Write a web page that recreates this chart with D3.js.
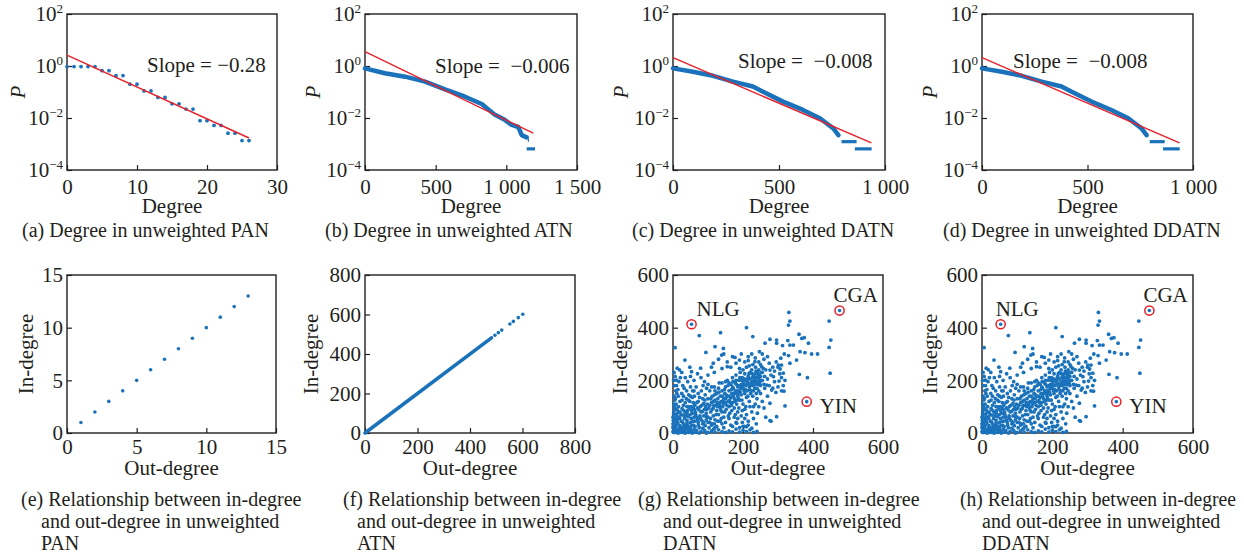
<!DOCTYPE html>
<html>
<head>
<meta charset="utf-8">
<script src="https://cdn.jsdelivr.net/npm/d3@7"></script>
<style>
body { margin: 0; background: #fff; }
text { font-family: "Liberation Serif", "Times New Roman", serif; fill: #231f20; }
</style>
</head>
<body>
<svg id="chart" width="1244" height="558"></svg>
<script>
// ---- data ----
// (a) PAN degree distribution
const panDegree = [0,1,2,3,4,5,6,7,8,9,10,11,12,13,14,15,16,17,18,19,20,21,22,23,24,25,26];
const panP = [0.95,0.95,0.95,0.95,0.95,0.66,0.66,0.43,0.43,0.2,0.2,0.11,0.11,0.062,0.062,0.035,0.035,0.022,0.022,0.0079,0.0079,0.0052,0.0052,0.0026,0.0026,0.00135,0.00135];
const panFit = [[0, 2.6], [26, 0.0017]];

// (b) ATN degree distribution
const atnDegree = [0,141,283,425,566,708,826,920,991,1038,1085,1109,1144];
const atnP = [0.81,0.525,0.389,0.251,0.126,0.066,0.0347,0.0132,0.0083,0.0054,0.0045,0.0022,0.0018];
const atnTail = [[1152,1160,0.0014],[1144,1203,0.00065]];
const atnFit = [[0, 3.55], [1191, 0.0026]];

// (c)/(d) DATN and DDATN degree distribution
const datnDegree = [0,94,189,283,377,425,519,613,693,724,756,780];
const datnP = [0.81,0.6,0.42,0.25,0.162,0.102,0.0427,0.0204,0.0098,0.0063,0.004,0.0022];
const datnTail = [[795,866,0.00123],[858,937,0.00065]];
const datnFit = [[0, 2.1], [936, 0.0011]];

const slopeLabels = ['Slope = \u22120.28', 'Slope =  \u22120.006', 'Slope =  \u22120.008', 'Slope =  \u22120.008'];

// (e) PAN in/out degree
const panOut = [1,2,3,4,5,6,7,8,9,10,11,12,13];
const panIn = [1,2,3,4,5,6,7,8,9,10,11,12,13];

// (f) ATN in/out degree: dense run along the diagonal, then single nodes
const atnDenseRun = [0, 478];
const atnSparse = [482,495,508,521,552,565,584,601];

// (g)/(h) DATN in/out degree, [out, in]
const datnPairs = [
  [136,381],[210,400],[75,370],[6,324],[34,277],[94,306],[120,328],[144,321],[139,296],[177,287],[190,277],[228,366],
  [247,309],[263,341],[277,356],[296,341],[12,246],[10,201],[53,233],[79,246],[115,265],[155,252],[215,290],[234,271],
  [253,252],[277,239],[287,214],[268,182],[282,163],[230,100],[241,75],[277,113],[296,62],[210,24],[182,37],[277,47],
  [331,458],[334,425],[330,410],[446,425],[451,353],[446,325],[296,353],[328,351],[313,332],[334,334],[344,334],[360,375],
  [368,359],[375,362],[387,341],[363,309],[377,305],[396,300],[413,300],[318,300],[330,294],[353,277],[334,265],[308,284],
  [301,258],[306,243],[310,258],[315,227],[303,197],[361,223],[384,210],[449,227],[317,159],[294,154],[320,103],
  [2,2],[5,8],[8,3],[12,12],[15,5],[3,15],[18,18],[22,8],[25,2],[7,22],[10,30],[28,15],[32,25],[20,28],[14,38],[4,40],
  [35,5],[38,18],[42,30],[30,35],[24,45],[12,50],[6,55],[45,10],[48,22],[50,40],[40,48],[33,55],[18,60],[2,65],[55,5],
  [58,30],[52,55],[44,62],[28,68],[10,72],[60,15],[62,45],[1,28],[1,48],[3,85],[6,95],[2,110],[5,125],[3,140],[8,160],
  [4,180],[2,200],[6,215],[3,230],[9,110],[12,88],[16,100],[20,80],[26,92],[35,78],[42,85],[48,95],[55,75],[62,88],
  [68,60],[72,40],[75,20],[80,5],[85,35],[90,10],[95,50],[100,2],[110,8],[120,3],[130,12],[140,5],[150,2],[160,8],
  [170,4],[180,15],[190,3],[200,10],[205,25],[210,5],[220,12],[230,2],[240,6],[30,2],[65,3],[45,2],[15,0],[35,0],
  [55,0],[75,0],[95,0],[0,5],[0,20],[0,35],[0,60],
  [65,70],[70,95],[72,120],[78,55],[80,80],[82,105],[85,130],[88,65],[90,90],[92,145],[95,75],[98,110],[100,60],
  [100,130],[102,95],[105,40],[105,160],[108,80],[110,115],[112,140],[115,65],[115,95],[118,175],[120,125],[120,50],
  [122,105],[125,85],[125,150],[128,130],[130,70],[130,110],[132,190],[135,95],[135,140],[138,120],[140,160],[140,80],
  [142,100],[145,130],[145,60],[148,150],[150,115],[150,175],[152,90],[155,140],[155,200],[158,120],[160,160],[160,100],
  [162,75],[165,135],[165,185],[168,150],[170,115],[170,210],[172,170],[175,130],[175,95],[178,190],[180,150],[180,220],
  [182,110],[185,175],[185,140],[188,200],[190,160],[190,125],[192,230],[195,185],[195,145],[198,210],[200,170],[200,110],
  [202,195],[205,150],[205,225],[208,180],[210,200],[210,135],[212,160],[215,215],[215,190],[218,175],[220,230],[220,205],
  [222,150],[225,195],[225,240],[228,180],[230,215],[230,160],[232,200],[235,225],[235,185],[238,210],[240,195],[242,230],
  [245,205],[240,170],[248,190],[250,215],[236,250],[228,260],[245,270],[218,255],
  [20,120],[25,150],[30,105],[32,170],[38,130],[40,100],[45,145],[48,120],[50,175],[52,100],[55,135],[58,115],[60,160],
  [62,105],[42,195],[35,210],[28,180],[15,140],[18,240],[48,250],[10,180],[25,230],
  [110,30],[125,25],[135,45],[145,20],[150,40],[160,55],[165,30],[175,60],[180,40],[185,80],[195,65],[198,40],[205,90],
  [210,70],[215,45],[220,100],[225,80],[230,55],[235,110],[240,130],[245,100],[250,150],[255,120],[260,95],[265,60],
  [270,140],[280,45],[200,25],[190,20],[170,25],[140,35],[120,20],[215,30],[225,18],[238,35],[205,55],[185,55],
  [100,220],[110,250],[118,230],[130,280],[140,245],[145,300],[155,270],[165,250],[170,290],[180,265],[190,245],[195,300],
  [205,270],[215,275],[225,300],[235,285],[250,260],[255,300],[260,280],[265,240],[270,290],[275,265],[280,220],[285,250],
  [290,235],[295,270],[300,250],[305,225],[310,210],[315,180],[320,200],[290,195],[270,205],[260,185],[255,230],[262,215],
  [275,180],[285,170],[300,175],[310,160],[245,240],
  [5,3],[10,6],[16,10],[20,14],[24,20],[28,5],[33,12],[36,28],[40,38],[44,20],[47,5],[50,15],[53,28],[57,45],[60,60],
  [63,25],[67,10],[70,50],[73,30],[77,65],[82,48],[85,18],[88,40],[92,28],[96,62],[100,40],[103,20],[107,55],[112,35],
  [116,15],[8,45],[12,62],[15,78],[19,55],[23,70],[27,42],[31,85],[36,65],[40,75],[44,100],[49,70],[53,85],[58,95],
  [64,78],[68,115],[74,88],[78,100],[84,82],[88,112],[93,100],[97,90],[2,75],[4,100],[7,130],[11,150],[14,165],[17,195],
  [21,210],[26,125],[30,140],[35,115],[39,160],[44,125],[50,140],[56,160],[61,140],[66,175],[72,150],[76,135],[81,160],
  [86,180],[91,125],[96,170],
  [105,105],[108,130],[112,90],[116,120],[119,145],[123,70],[127,100],[131,155],[134,115],[137,85],[141,140],[144,110],
  [147,165],[151,130],[154,105],[157,180],[161,140],[164,115],[167,165],[171,195],[174,150],[177,120],[181,185],[184,160],
  [187,130],[191,210],[194,170],[197,125],[201,185],[204,205],[207,165],[211,185],[214,140],[217,225],[221,180],[224,160],
  [227,210],[231,190],[234,170],[237,235],[240,210],[243,185],[246,220],[249,200],[252,230],[238,150],[228,140],[218,120],
  [208,100],[198,85],[188,95],[178,70],[168,85],[158,65],[148,80],[138,55],[128,45],[118,35],[245,160],[250,180],[255,200],
  [258,245],[262,170],[200,240],[210,250],[190,180],[180,200],[170,175],[160,190],[150,195],[140,190],[130,170],[120,160],
  [110,175],[100,185],[90,195],[80,210],[70,225],[60,200],[50,215],
  [178,160],[186,150],[196,200],[203,160],[213,205],[223,185],[233,205],[243,220],[212,190],[192,155],[172,140],[162,125],
  [152,145],[143,120],[133,105],[126,115],[117,105],[226,225],[236,195],[219,165],[199,175],[183,125],[167,105]
];
const highlightNames = ['NLG', 'CGA', 'YIN'];
const highlightOut = [53, 476, 382];
const highlightIn = [413, 465, 119];

// tick values and labels
const panXTicks = [0,10,20,30];
const atnXTicks = [0,500,1000,1500];
const atnXLabels = ['0','500','1 000','1 500'];
const datnXTicks = [0,500,1000];
const datnXLabels = ['0','500','1 000'];
const logYTicks = [1e2,1e0,1e-2,1e-4];
const logYExp = ['2','0','\u22122','\u22124'];
const panScatterTicks = [0,5,10,15];
const atnScatterTicks = [0,200,400,600,800];
const datnScatterTicks = [0,200,400,600];

const topCaptions = ['(a) Degree in unweighted PAN', '(b) Degree in unweighted ATN', '(c) Degree in unweighted DATN', '(d) Degree in unweighted DDATN'];
const bottomCaptions = [
  ['(e) Relationship between in-degree', 'and out-degree in unweighted', 'PAN'],
  ['(f) Relationship between in-degree', 'and out-degree in unweighted', 'ATN'],
  ['(g) Relationship between in-degree', 'and out-degree in unweighted', 'DATN'],
  ['(h) Relationship between in-degree', 'and out-degree in unweighted', 'DDATN']
];

// ---- drawing ----
const blue = '#1a72bb';
const red = '#e8202a';
const ink = '#231f20';
const fs = 21;
const capFs = 20;
const svg = d3.select('#chart');

function panel(box, opt) {
  const w = box.x1 - box.x0, h = box.y1 - box.y0;
  const g = svg.append('g').attr('transform', `translate(${box.x0},${box.y0})`);
  const x = d3.scaleLinear().domain(opt.xDomain).range([0, w]);
  const y = (opt.log ? d3.scaleLog() : d3.scaleLinear()).domain(opt.yDomain).range([h, 0]);

  const xa = g.append('g').attr('transform', `translate(0,${h})`)
    .call(d3.axisBottom(x).tickValues(opt.xTicks).tickSizeInner(-5).tickSizeOuter(0)
      .tickPadding(opt.xPad).tickFormat((d, i) => opt.xLabels ? opt.xLabels[i] : d));
  const ya = g.append('g')
    .call(d3.axisLeft(y).tickValues(opt.yTicks).tickSizeInner(-5).tickSizeOuter(0)
      .tickPadding(4).tickFormat(d => d));
  [xa, ya].forEach(a => {
    a.select('.domain').remove();
    a.selectAll('.tick line').attr('stroke', ink).attr('stroke-width', 1.2);
    a.selectAll('.tick text').attr('font-family', null).attr('font-size', fs).attr('fill', ink);
  });
  if (opt.log) {
    ya.selectAll('.tick text').each(function(d, i) {
      const t = d3.select(this).text(null);
      t.append('tspan').text('10');
      t.append('tspan').attr('dy', -8).attr('font-size', 13).text(logYExp[i]);
    });
  }

  g.append('rect').attr('width', w).attr('height', h)
    .attr('fill', 'none').attr('stroke', ink).attr('stroke-width', 1.4);

  g.append('text').attr('x', w / 2).attr('y', opt.xTitleY - box.y0)
    .attr('text-anchor', 'middle').attr('font-size', fs).text(opt.xTitle);
  g.append('text')
    .attr('transform', `translate(${-opt.yTitleOff},${h / 2}) rotate(-90)`)
    .attr('text-anchor', 'middle').attr('font-size', fs)
    .attr('font-style', opt.yItalic ? 'italic' : null).text(opt.yTitle);
  return {g, x, y};
}

const topBoxes = [
  {x0: 67, x1: 277, y0: 14, y1: 170},
  {x0: 365, x1: 577, y0: 14, y1: 170},
  {x0: 673, x1: 885, y0: 14, y1: 170},
  {x0: 982, x1: 1193, y0: 14, y1: 170}
];
const bottomBoxes = [
  {x0: 67, x1: 276, y0: 275, y1: 433},
  {x0: 365, x1: 575, y0: 275, y1: 433},
  {x0: 673, x1: 883, y0: 275, y1: 433},
  {x0: 982, x1: 1193, y0: 275, y1: 433}
];

const topOpts = [
  {xDomain: [0, 30], xTicks: panXTicks},
  {xDomain: [0, 1500], xTicks: atnXTicks, xLabels: atnXLabels},
  {xDomain: [0, 1000], xTicks: datnXTicks, xLabels: datnXLabels},
  {xDomain: [0, 1000], xTicks: datnXTicks, xLabels: datnXLabels}
];
const slopeX = [147, 435, 738, 1013];
const slopeY = [72, 73, 68, 68];
const topCapX = [22, 325, 632, 943];

topBoxes.forEach((box, k) => {
  const p = panel(box, Object.assign({
    log: true, yDomain: [1e-4, 1e2], yTicks: logYTicks, xPad: 9,
    xTitle: 'Degree', xTitleY: 213, yTitle: 'P', yItalic: true, yTitleOff: k === 0 ? 42 : 45
  }, topOpts[k]));
  const {g, x, y} = p;
  const line = d3.line().x(d => x(d[0])).y(d => y(d[1]));

  if (k === 0) {
    g.selectAll('circle.pt').data(d3.zip(panDegree, panP)).enter().append('circle')
      .attr('cx', d => x(d[0])).attr('cy', d => y(d[1])).attr('r', 1.9).attr('fill', blue);
  } else {
    const deg = k === 1 ? atnDegree : datnDegree;
    const P = k === 1 ? atnP : datnP;
    const tail = k === 1 ? atnTail : datnTail;
    g.append('path').datum(d3.zip(deg, P)).attr('d', line)
      .attr('fill', 'none').attr('stroke', blue).attr('stroke-width', 4.5)
      .attr('stroke-linecap', 'round').attr('stroke-linejoin', 'round');
    g.selectAll('line.tail').data(tail).enter().append('line')
      .attr('x1', d => x(d[0])).attr('x2', d => x(d[1]))
      .attr('y1', d => y(d[2])).attr('y2', d => y(d[2]))
      .attr('stroke', blue).attr('stroke-width', 3.2);
  }
  const fit = [panFit, atnFit, datnFit, datnFit][k];
  g.append('path').datum(fit).attr('d', line)
    .attr('fill', 'none').attr('stroke', red).attr('stroke-width', 1.4);

  svg.append('text').attr('x', slopeX[k]).attr('y', slopeY[k]).attr('font-size', fs)
    .style('white-space', 'pre').text(slopeLabels[k]);
  svg.append('text').attr('x', topCapX[k]).attr('y', 237).attr('font-size', capFs).text(topCaptions[k]);
});

const bottomOpts = [
  {xDomain: [0, 15], yDomain: [0, 15], xTicks: panScatterTicks, yTicks: panScatterTicks, yTitleOff: 34},
  {xDomain: [0, 800], yDomain: [0, 800], xTicks: atnScatterTicks, yTicks: atnScatterTicks, yTitleOff: 47},
  {xDomain: [0, 600], yDomain: [0, 600], xTicks: datnScatterTicks, yTicks: datnScatterTicks, yTitleOff: 46},
  {xDomain: [0, 600], yDomain: [0, 600], xTicks: datnScatterTicks, yTicks: datnScatterTicks, yTitleOff: 45}
];
const capX1 = [21, 343, 638, 960];
const capX2 = [41, 357, 663, 982];
// the first caption line of (h) runs up to the page edge, so set it a little tighter
const capFit = [null, null, null, [276, null, null]];

bottomBoxes.forEach((box, k) => {
  const p = panel(box, Object.assign({
    log: false, xPad: 6, xTitle: 'Out-degree', xTitleY: 475, yTitle: 'In-degree'
  }, bottomOpts[k]));
  const {g, x, y} = p;

  if (k === 0) {
    g.selectAll('circle.pt').data(d3.zip(panOut, panIn)).enter().append('circle')
      .attr('cx', d => x(d[0])).attr('cy', d => y(d[1])).attr('r', 1.8).attr('fill', blue);
  } else if (k === 1) {
    g.append('line')
      .attr('x1', x(atnDenseRun[0])).attr('y1', y(atnDenseRun[0]))
      .attr('x2', x(atnDenseRun[1])).attr('y2', y(atnDenseRun[1]))
      .attr('stroke', blue).attr('stroke-width', 3.6).attr('stroke-linecap', 'round');
    g.selectAll('circle.pt').data(atnSparse).enter().append('circle')
      .attr('cx', d => x(d)).attr('cy', d => y(d)).attr('r', 1.8).attr('fill', blue);
  } else {
    g.selectAll('circle.pt').data(datnPairs).enter().append('circle')
      .attr('cx', d => x(d[0])).attr('cy', d => y(d[1])).attr('r', 1.9).attr('fill', blue);
    const hl = d3.zip(highlightNames, highlightOut, highlightIn);
    g.selectAll('circle.hd').data(hl).enter().append('circle')
      .attr('cx', d => x(d[1])).attr('cy', d => y(d[2])).attr('r', 1.8).attr('fill', blue);
    g.selectAll('circle.hl').data(hl).enter().append('circle')
      .attr('cx', d => x(d[1])).attr('cy', d => y(d[2])).attr('r', 4.6)
      .attr('fill', 'none').attr('stroke', red).attr('stroke-width', 1.5);
    const off = {NLG: [k === 2 ? 5 : -5, -8], CGA: [-6, -9], YIN: [13, 11]};
    g.selectAll('text.hl').data(hl).enter().append('text')
      .attr('x', d => x(d[1]) + off[d[0]][0]).attr('y', d => y(d[2]) + off[d[0]][1])
      .attr('font-size', fs).text(d => d[0]);
  }

  bottomCaptions[k].forEach((s, i) => {
    const t = svg.append('text').attr('font-size', capFs)
      .attr('x', i === 0 ? capX1[k] : capX2[k]).attr('y', 506 + i * 22).text(s);
    if (capFit[k] && capFit[k][i]) t.attr('textLength', capFit[k][i]).attr('lengthAdjust', 'spacingAndGlyphs');
  });
});
</script>
</body>
</html>
